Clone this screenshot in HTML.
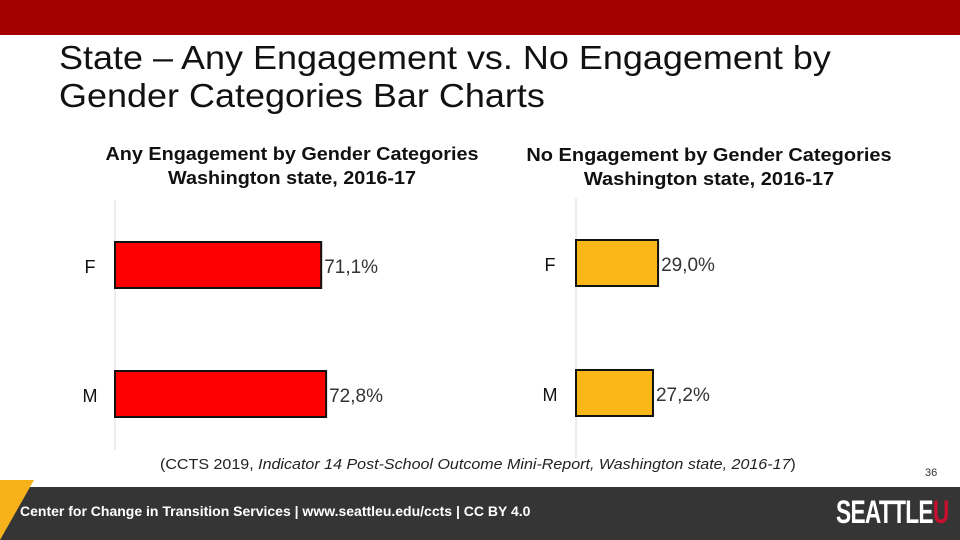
<!DOCTYPE html>
<html><head><meta charset="utf-8"><style>
body{margin:0;width:960px;height:540px;position:relative;overflow:hidden;background:#fff;font-family:"Liberation Sans",sans-serif}
.a{position:absolute;white-space:nowrap}
</style></head><body>
<div class="a" style="left:0;top:0;width:960px;height:35px;background:#a50000"></div>
<div class="a" style="left:59px;top:39px;font-size:33px;line-height:38px;color:#111;transform:scaleX(1.09);transform-origin:left">State – Any Engagement vs. No Engagement by<br>Gender Categories Bar Charts</div>
<div class="a" style="left:104px;top:142px;width:376px;text-align:center;font-size:18px;font-weight:bold;line-height:24px;color:#111;transform:scaleX(1.1);transform-origin:center">Any Engagement by Gender Categories<br>Washington state, 2016-17</div>
<div class="a" style="left:524px;top:143px;width:370px;text-align:center;font-size:18px;font-weight:bold;line-height:24px;color:#111;transform:scaleX(1.11);transform-origin:center">No Engagement by Gender Categories<br>Washington state, 2016-17</div>
<svg class="a" style="left:0;top:0" width="960" height="540" id="chart"></svg>
<div class="a" style="left:160px;top:456px;font-size:15px;color:#222;transform:scaleX(1.07);transform-origin:left">(CCTS 2019, <i>Indicator 14 Post-School Outcome Mini-Report, Washington state, 2016-17</i>)</div>
<div class="a" style="left:925px;top:467px;font-size:11px;color:#333">36</div>
<div class="a" style="left:0;top:487px;width:960px;height:53px;background:#353535"></div>
<svg class="a" style="left:0;top:480px" width="40" height="60"><polygon points="0,0 34,0 0,60" fill="#f7b21b"/></svg>
<div class="a" style="left:20px;top:503px;font-size:14px;font-weight:bold;color:#fff;transform:scaleX(1.0);transform-origin:left">Center for Change in Transition Services | www.seattleu.edu/ccts | CC BY 4.0</div>
<div class="a" style="left:836px;top:494px;font-size:32px;font-weight:bold;color:#fff;transform:scaleX(0.71);transform-origin:left;letter-spacing:-1px">SEATTLE<span style="color:#c8102e">U</span></div>
<script>
const categories=["F","M"];
const anyValues=[71.1,72.8];
const noValues=[29.0,27.2];
const anyLabels=["71,1%","72,8%"];
const noLabels=["29,0%","27,2%"];
const svg=document.getElementById('chart');
const NS='http://www.w3.org/2000/svg';
function mk(t,a){const e=document.createElementNS(NS,t);for(const k in a)e.setAttribute(k,a[k]);svg.appendChild(e);return e;}
function draw(cfg,vals,labels,prefix){
  const x=v=>cfg.x0+v*cfg.scale;
  const ax=mk('line',{x1:cfg.x0,y1:cfg.yTop,x2:cfg.x0,y2:cfg.yBot,stroke:'#d9d9d9','stroke-width':1});
  
  
  categories.forEach((c,i)=>{
    const y=cfg.bar0+i*cfg.step;
    const r=mk('rect',{x:cfg.x0,y:y,width:x(vals[i])-cfg.x0,height:46,fill:cfg.color,stroke:'#111','stroke-width':2});
    
    
    const t=mk('text',{x:x(vals[i])+3,y:y+31,'font-size':19,fill:'#333','font-family':'Liberation Sans'});
    t.textContent=labels[i];
    
    
    const l=mk('text',{x:cfg.labelX,y:y+31,'font-size':18,fill:'#111','font-family':'Liberation Sans','text-anchor':'middle'});
    l.textContent=c;
    
    
  });
}
draw({x0:115,scale:2.9,yTop:200,yBot:450,bar0:242,step:129,color:'#ff0000',labelX:90},anyValues,anyLabels,'any-engagement');
draw({x0:576,scale:2.83,yTop:198,yBot:458,bar0:240,step:130,color:'#fbb718',labelX:550},noValues,noLabels,'no-engagement');
</script>
</body></html>
